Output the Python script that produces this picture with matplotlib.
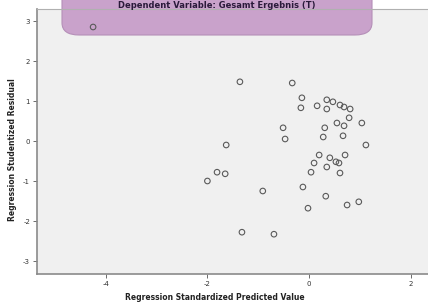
import matplotlib
matplotlib.use("Agg")
import matplotlib.pyplot as plt
from matplotlib.patches import FancyBboxPatch

# Data (standardized predicted value, studentized residual)
pred = [-4.25, -1.36, -0.33, -0.14, -0.16, 0.16, 0.35, 0.35, 0.47, 0.61, 0.69, 0.81,
        0.79, 1.04, 0.55, 0.69, 0.31, 0.28, 0.67, -0.51, -0.47, 1.12,
        0.20, 0.71, 0.41, 0.53, 0.59, 0.10, 0.35, 0.04, 0.61, -1.63, -1.81,
        -1.65, -2.00, -0.91, -0.12, 0.33, -0.02, 0.75, 0.98, -1.32, -0.69]
resid = [2.85, 1.48, 1.45, 1.08, 0.83, 0.88, 1.03, 0.80, 0.98, 0.90, 0.85, 0.80,
         0.58, 0.45, 0.45, 0.38, 0.33, 0.10, 0.13, 0.33, 0.05, -0.10,
         -0.35, -0.35, -0.42, -0.52, -0.55, -0.55, -0.65, -0.78, -0.80, -0.10, -0.78,
         -0.82, -1.00, -1.25, -1.15, -1.38, -1.68, -1.60, -1.52, -2.28, -2.33]

x_ticks = [-4, -2, 0, 2]
y_ticks = [-3, -2, -1, 0, 1, 2, 3]

title_text = "Dependent Variable: Gesamt Ergebnis (T)"
x_label = "Regression Standardized Predicted Value"
y_label = "Regression Studentized Residual"

fig = plt.figure(figsize=(4.28, 3.04), dpi=100)
W, H = 428, 304
left_px, right_px, top_px, bottom_px = 37, 428, 9, 274
ax = fig.add_axes([left_px / W, 1 - bottom_px / H, (right_px - left_px) / W, (bottom_px - top_px) / H])
ax.set_facecolor("#f0f0f0")

x0, sx = 309, 50.8
y0, sy = 141, 40.0
ax.set_xlim((left_px - x0) / sx, (right_px - x0) / sx)
ax.set_ylim((y0 - bottom_px) / sy, (y0 - top_px) / sy)

# purple title box (partly cropped at the top)
box = FancyBboxPatch((62 / W, 1 - 35 / H), (372 - 62) / W, 60 / H,
                     boxstyle="round,pad=0,rounding_size=0.04",
                     transform=fig.transFigure, facecolor="#c9a2cb", edgecolor="#b58fb8",
                     linewidth=0.8, clip_on=False, zorder=1)
ax.add_patch(box)
fig.text(217 / W, 1 - 5 / H, title_text, ha="center", va="center", fontsize=6,
         fontweight="bold", color="#2a1a3a")

ax.scatter(pred, resid, s=16, facecolors="none", edgecolors="#5a5a5a", linewidths=0.8, zorder=3)

ax.set_xticks(x_ticks)
ax.set_yticks(y_ticks)
ax.tick_params(axis="both", labelsize=5, colors="#555555", length=3, width=0.6, pad=2)
ax.set_xticklabels([str(t) for t in x_ticks], color="#333333")
ax.set_yticklabels([str(t) for t in y_ticks], color="#333333")

for side in ["left", "bottom"]:
    ax.spines[side].set_color("#8a8a8a")
    ax.spines[side].set_linewidth(1.2)
ax.spines["top"].set_color("#b0b0b0")
ax.spines["top"].set_linewidth(0.8)
ax.spines["right"].set_visible(False)

fig.text(215 / W, 1 - 297 / H, x_label, ha="center", va="center", fontsize=5.5,
         fontweight="bold", color="#222222")
fig.text(13 / W, 1 - 150 / H, y_label, ha="center", va="center", rotation=90,
         fontsize=5.5, fontweight="bold", color="#222222")

fig.savefig("out.png", dpi=100, facecolor="white")
